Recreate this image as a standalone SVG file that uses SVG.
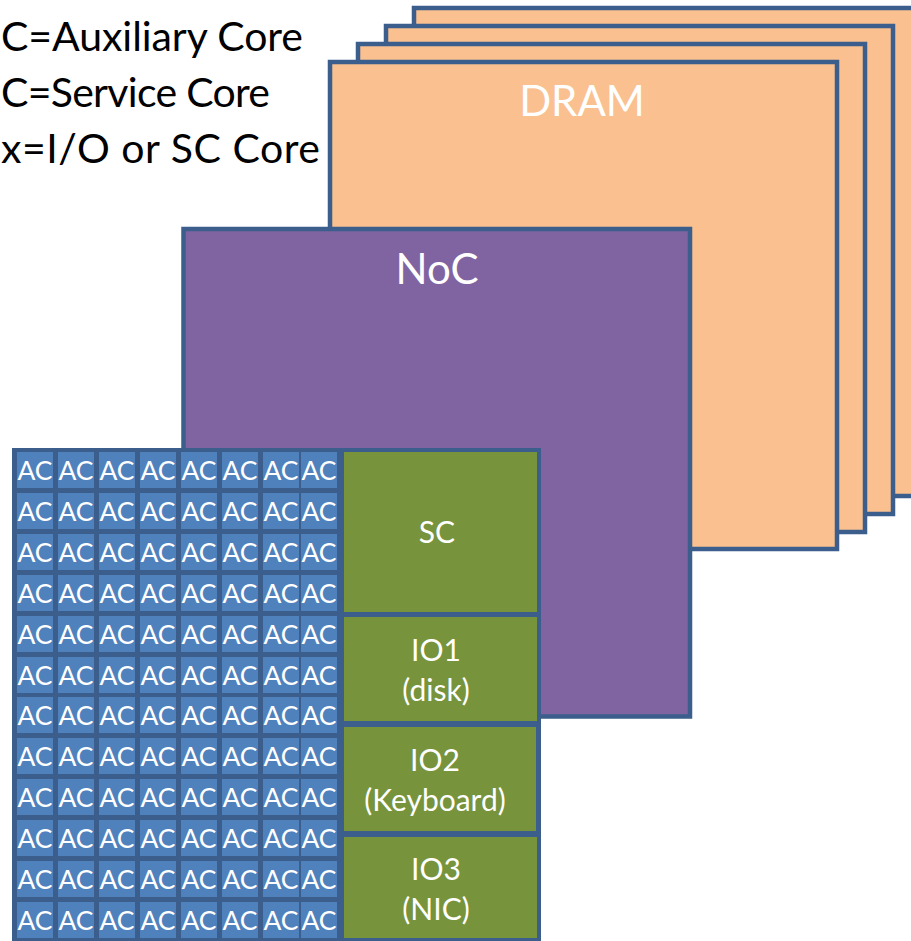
<svg xmlns="http://www.w3.org/2000/svg" width="911" height="941" viewBox="0 0 911 941">
<style>
.dram{fill:#FAC090;stroke:#3B5E8C;stroke-width:4.5}
.noc{fill:#8064A2;stroke:#3B5E8C;stroke-width:4.5}
.frame{fill:#3B5E8C}
.ac{fill:#4F81BD}
.gr{fill:#77933C}
.t{font-family:Lato,"Open Sans",sans-serif;fill:#fff;text-anchor:middle}
.act{font-size:26.5px}
.lab{font-size:30px}
.big{font-size:42px}
.leg{font-family:Lato,"Open Sans",sans-serif;fill:#000;font-size:41px}
</style>
<defs>
<g id="cell"><rect class="ac" x="0" y="0" width="36" height="36"/><text class="t act" x="18" y="28">AC</text></g>
</defs>
<g id="legend">
<text class="leg" x="1" y="51" textLength="302">C=Auxiliary Core</text>
<text class="leg" x="1" y="107" textLength="269">C=Service Core</text>
<text class="leg" x="1" y="163" textLength="319">x=I/O or SC Core</text>
</g>
<g id="dram4"><rect class="dram" x="414" y="8" width="507" height="488"/></g>
<g id="dram3"><rect class="dram" x="386" y="26" width="507" height="488"/></g>
<g id="dram2"><rect class="dram" x="358" y="44" width="507" height="488"/></g>
<g id="dram1"><rect class="dram" x="330" y="62" width="507" height="487"/><text class="t big" x="582" y="116">DRAM</text></g>
<g id="noc"><rect class="noc" x="183.5" y="229" width="506.5" height="487.5"/><text class="t big" x="437" y="284">NoC</text></g>
<g id="chip"><rect class="frame" x="12" y="448" width="529" height="500"/></g>
<g id="ac-grid">
<g id="ac-r1"><use href="#cell" x="17" y="452"/><use href="#cell" x="58" y="452"/><use href="#cell" x="99" y="452"/><use href="#cell" x="140" y="452"/><use href="#cell" x="181" y="452"/><use href="#cell" x="222" y="452"/><use href="#cell" x="263" y="452"/><use href="#cell" x="301" y="452"/></g>
<g id="ac-r2"><use href="#cell" x="17" y="493"/><use href="#cell" x="58" y="493"/><use href="#cell" x="99" y="493"/><use href="#cell" x="140" y="493"/><use href="#cell" x="181" y="493"/><use href="#cell" x="222" y="493"/><use href="#cell" x="263" y="493"/><use href="#cell" x="301" y="493"/></g>
<g id="ac-r3"><use href="#cell" x="17" y="534"/><use href="#cell" x="58" y="534"/><use href="#cell" x="99" y="534"/><use href="#cell" x="140" y="534"/><use href="#cell" x="181" y="534"/><use href="#cell" x="222" y="534"/><use href="#cell" x="263" y="534"/><use href="#cell" x="301" y="534"/></g>
<g id="ac-r4"><use href="#cell" x="17" y="575"/><use href="#cell" x="58" y="575"/><use href="#cell" x="99" y="575"/><use href="#cell" x="140" y="575"/><use href="#cell" x="181" y="575"/><use href="#cell" x="222" y="575"/><use href="#cell" x="263" y="575"/><use href="#cell" x="301" y="575"/></g>
<g id="ac-r5"><use href="#cell" x="17" y="616"/><use href="#cell" x="58" y="616"/><use href="#cell" x="99" y="616"/><use href="#cell" x="140" y="616"/><use href="#cell" x="181" y="616"/><use href="#cell" x="222" y="616"/><use href="#cell" x="263" y="616"/><use href="#cell" x="301" y="616"/></g>
<g id="ac-r6"><use href="#cell" x="17" y="657"/><use href="#cell" x="58" y="657"/><use href="#cell" x="99" y="657"/><use href="#cell" x="140" y="657"/><use href="#cell" x="181" y="657"/><use href="#cell" x="222" y="657"/><use href="#cell" x="263" y="657"/><use href="#cell" x="301" y="657"/></g>
<g id="ac-r7"><use href="#cell" x="17" y="697"/><use href="#cell" x="58" y="697"/><use href="#cell" x="99" y="697"/><use href="#cell" x="140" y="697"/><use href="#cell" x="181" y="697"/><use href="#cell" x="222" y="697"/><use href="#cell" x="263" y="697"/><use href="#cell" x="301" y="697"/></g>
<g id="ac-r8"><use href="#cell" x="17" y="738"/><use href="#cell" x="58" y="738"/><use href="#cell" x="99" y="738"/><use href="#cell" x="140" y="738"/><use href="#cell" x="181" y="738"/><use href="#cell" x="222" y="738"/><use href="#cell" x="263" y="738"/><use href="#cell" x="301" y="738"/></g>
<g id="ac-r9"><use href="#cell" x="17" y="779"/><use href="#cell" x="58" y="779"/><use href="#cell" x="99" y="779"/><use href="#cell" x="140" y="779"/><use href="#cell" x="181" y="779"/><use href="#cell" x="222" y="779"/><use href="#cell" x="263" y="779"/><use href="#cell" x="301" y="779"/></g>
<g id="ac-r10"><use href="#cell" x="17" y="820"/><use href="#cell" x="58" y="820"/><use href="#cell" x="99" y="820"/><use href="#cell" x="140" y="820"/><use href="#cell" x="181" y="820"/><use href="#cell" x="222" y="820"/><use href="#cell" x="263" y="820"/><use href="#cell" x="301" y="820"/></g>
<g id="ac-r11"><use href="#cell" x="17" y="861"/><use href="#cell" x="58" y="861"/><use href="#cell" x="99" y="861"/><use href="#cell" x="140" y="861"/><use href="#cell" x="181" y="861"/><use href="#cell" x="222" y="861"/><use href="#cell" x="263" y="861"/><use href="#cell" x="301" y="861"/></g>
<g id="ac-r12"><use href="#cell" x="17" y="902"/><use href="#cell" x="58" y="902"/><use href="#cell" x="99" y="902"/><use href="#cell" x="140" y="902"/><use href="#cell" x="181" y="902"/><use href="#cell" x="222" y="902"/><use href="#cell" x="263" y="902"/><use href="#cell" x="301" y="902"/></g>
</g>
<g id="sc"><rect class="gr" x="344" y="452" width="193" height="160"/><text class="t lab" x="437" y="543">SC</text></g>
<g id="io1"><rect class="gr" x="344" y="617" width="193" height="104"/><text class="t lab" x="436" y="661">IO1</text><text class="t lab" x="436" y="701">(disk)</text></g>
<g id="io2"><rect class="gr" x="344" y="727" width="192" height="104"/><text class="t lab" x="435" y="771">IO2</text><text class="t lab" x="435" y="811">(Keyboard)</text></g>
<g id="io3"><rect class="gr" x="344" y="837" width="193" height="101"/><text class="t lab" x="436" y="880">IO3</text><text class="t lab" x="436" y="920">(NIC)</text></g>
<g id="connectors"/>
</svg>
